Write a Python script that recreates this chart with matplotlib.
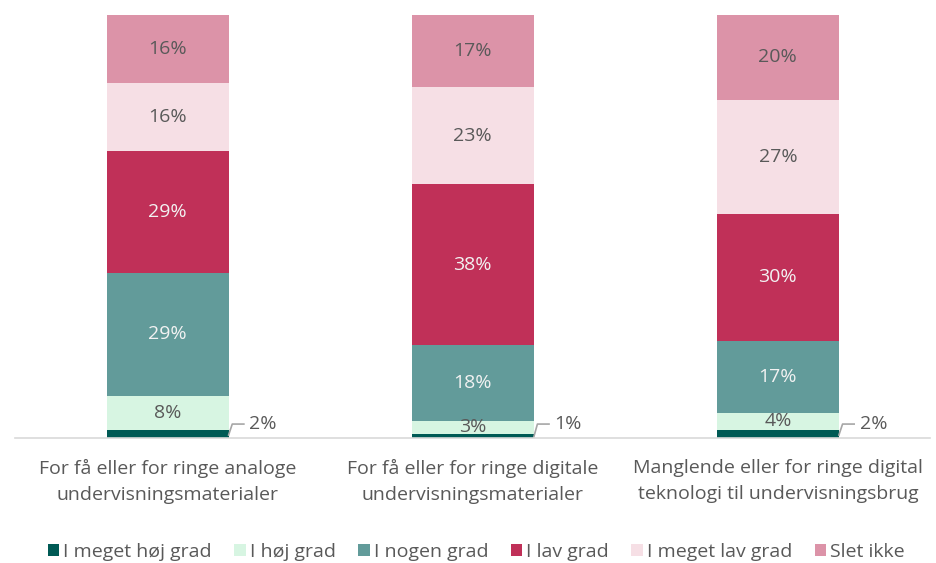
import matplotlib.pyplot as plt
import numpy as np

plt.rcParams['font.family'] = ['Open Sans', 'DejaVu Sans']

categories = ['For få eller for ringe analoge\nundervisningsmaterialer',
              'For få eller for ringe digitale\nundervisningsmaterialer',
              'Manglende eller for ringe digital\nteknologi til undervisningsbrug']
series = ['I meget høj grad', 'I høj grad', 'I nogen grad', 'I lav grad', 'I meget lav grad', 'Slet ikke']
meget_hoj = [2, 1, 2]
hoj = [8, 3, 4]
nogen = [29, 18, 17]
lav = [29, 38, 30]
meget_lav = [16, 23, 27]
slet_ikke = [16, 17, 20]

values = [meget_hoj, hoj, nogen, lav, meget_lav, slet_ikke]
colors = ['#005A55', '#D7F5E2', '#629B9A', '#C03058', '#F6DFE5', '#DC93A8']
text_colors = ['#595959', '#595959', '#F2F2F2', '#F2F2F2', '#595959', '#595959']

fig = plt.figure(figsize=(9.37, 5.63), dpi=100)
ax = fig.add_axes([0.016, 0.222, 0.977, 0.751])

x = np.arange(len(categories))
w = 0.4
bottom = np.zeros(len(categories))
for s, vals, c, tc in zip(series, values, colors, text_colors):
    vals = np.array(vals, dtype=float)
    ax.bar(x, vals, w, bottom=bottom, color=c, label=s)
    for i, v in enumerate(vals):
        if s == 'I meget høj grad':
            # small value: leader line to the right
            y0 = bottom[i] + v / 2
            ax.plot([x[i] + w / 2, x[i] + w / 2 + 0.012, x[i] + w / 2 + 0.05],
                    [y0 - 0.3, 3.3, 3.3], color='#A6A6A6', lw=1.2, clip_on=False)
            ax.text(x[i] + w / 2 + 0.068, 3.3, f'{v:.0f}%', ha='left', va='center',
                    fontsize=14, color='#595959')
        else:
            ax.text(x[i], bottom[i] + v / 2, f'{v:.0f}%', ha='center', va='center',
                    fontsize=14, color=tc)
    bottom += vals

ax.set_xlim(-0.5, 2.5)
ax.set_ylim(0, 100)
ax.set_yticks([])
ax.set_xticks(x)
ax.set_xticklabels(categories, fontsize=14, color='#595959', linespacing=1.55)
ax.tick_params(axis='x', length=0, pad=15)
for sp in ['top', 'right', 'left']:
    ax.spines[sp].set_visible(False)
ax.spines['bottom'].set_color('#D9D9D9')
ax.spines['bottom'].set_linewidth(1.2)

ax.legend(loc='center', bbox_to_anchor=(0.504, -0.27), ncol=6, frameon=False,
          fontsize=14, handlelength=0.6, handleheight=0.6, handletextpad=0.2,
          columnspacing=1.15, labelcolor='#595959')

fig.savefig('out.png', dpi=100)
